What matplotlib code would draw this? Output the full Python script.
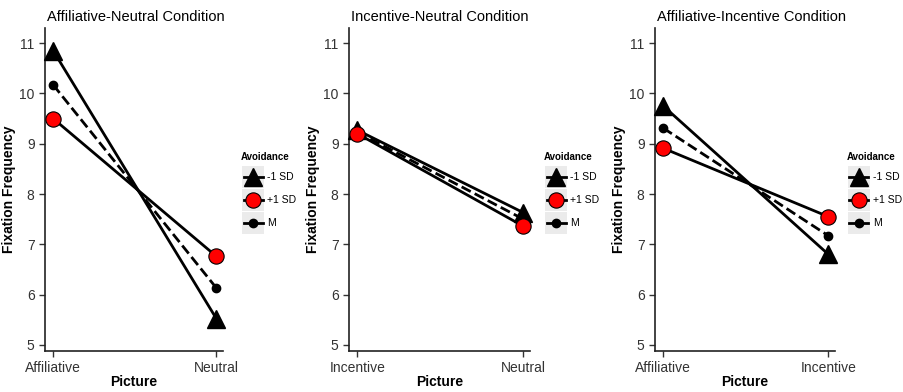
import matplotlib.pyplot as plt
from matplotlib.patches import Rectangle
from matplotlib.lines import Line2D

plt.rcParams['font.family'] = ['Liberation Sans', 'DejaVu Sans']

# data
titles = ['Affiliative-Neutral Condition', 'Incentive-Neutral Condition',
          'Affiliative-Incentive Condition']
xlabels = [['Affiliative', 'Neutral'], ['Incentive', 'Neutral'],
           ['Affiliative', 'Incentive']]
groups = ['-1 SD', '+1 SD', 'M']
minus_sd = [[10.85, 5.52], [9.27, 7.63], [9.75, 6.80]]
plus_sd = [[9.50, 6.76], [9.20, 7.36], [8.91, 7.55]]
mean_v = [[10.17, 6.13], [9.23, 7.50], [9.31, 7.17]]
yticks = [5, 6, 7, 8, 9, 10, 11]

styles = {
    '-1 SD': dict(ls='-', marker='^', ms=13, mfc='black', mec='black'),
    '+1 SD': dict(ls='-', marker='o', ms=11, mfc='#FF0000', mec='black', mew=0.8),
    'M': dict(ls='--', marker='o', ms=6, mfc='black', mec='black'),
}

W, H = 904, 392
fig = plt.figure(figsize=(W / 100, H / 100), dpi=100)

# axes boxes in pixels: left, right, top, bottom
boxes = [(45, 223), (349, 530), (655, 835)]
leg_x = [240, 543, 846]
top, bot = 28, 351

for i in range(3):
    l, r = boxes[i]
    ax = fig.add_axes([l / W, (H - bot) / H, (r - l) / W, (bot - top) / H])
    series = {'-1 SD': minus_sd[i], '+1 SD': plus_sd[i], 'M': mean_v[i]}
    for g in ['M', '+1 SD', '-1 SD']:
        st = styles[g]
        ax.plot([0, 1], series[g], color='black', lw=2, ls=st['ls'],
                marker=st['marker'], ms=st['ms'], mfc=st['mfc'],
                mec=st['mec'], mew=st.get('mew', 1), zorder=3 if g != '+1 SD' else 4,
                clip_on=False)
    ax.set_xlim(-0.05, 1.04)
    ax.set_ylim(4.88, 11.3)
    ax.set_xticks([0, 1])
    ax.set_xticklabels(xlabels[i])
    ax.set_yticks(yticks)
    for s in ['top', 'right']:
        ax.spines[s].set_visible(False)
    for s in ['left', 'bottom']:
        ax.spines[s].set_color('#222222')
        ax.spines[s].set_linewidth(1.2)
    ax.tick_params(labelsize=10, colors='#333333', length=4, width=1)
    ax.tick_params(axis='x', pad=3)
    ax.set_xlabel('Picture', fontsize=10, fontweight='bold', labelpad=0)
    ax.set_ylabel('Fixation Frequency', fontsize=10, fontweight='bold', labelpad=2)
    ax.set_title(titles[i], fontsize=10.5, loc='left', pad=5, x=0.01)

    # legend drawn like ggplot keys
    lx = leg_x[i]
    lax = fig.add_axes([lx / W, (H - 240) / H, 58 / W, 90 / H])
    lax.set_xlim(0, 58)
    lax.set_ylim(90, 0)
    lax.axis('off')
    lax.text(1, 7, 'Avoidance', fontsize=7, fontweight='bold', va='center')
    for k, g in enumerate(groups):
        cy = 27 + 23 * k
        lax.add_patch(Rectangle((2, cy - 11), 22, 22, color='#EBEBEB', lw=0))
        st = styles[g]
        lax.add_line(Line2D([3.5, 22.5], [cy, cy], color='black', lw=2, ls='-'))
        lax.add_line(Line2D([13], [cy], marker=st['marker'], ms=st['ms'],
                            mfc=st['mfc'], mec=st['mec'], mew=st.get('mew', 1)))
        lax.text(27, cy, g, fontsize=7.5, va='center')

fig.savefig('out.png', dpi=100)
